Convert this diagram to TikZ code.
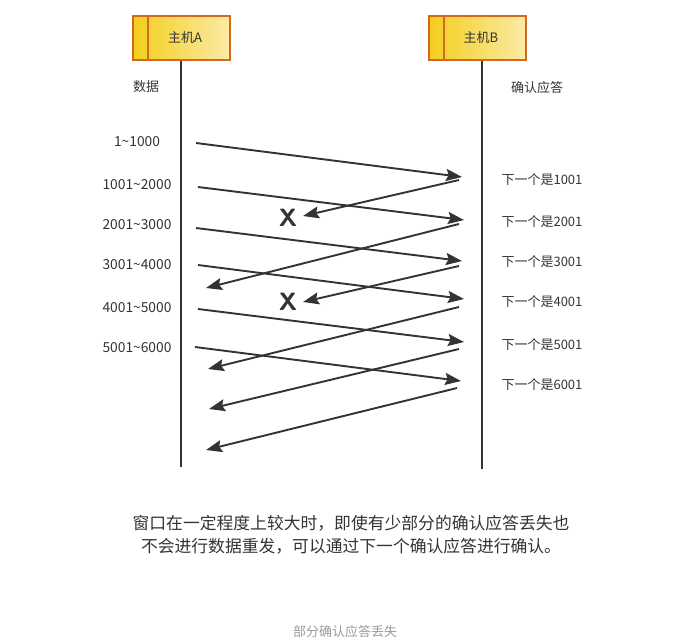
\documentclass[tikz,border=0pt]{standalone}
\usepackage{fontspec}
\setmainfont{Noto Sans CJK SC}
\usetikzlibrary{arrows.meta}
\definecolor{ink}{HTML}{333333}
\definecolor{boxedge}{HTML}{D2691E}
\definecolor{yelA}{HTML}{F3CF1C}
\definecolor{yelB}{HTML}{FBEAA6}
\definecolor{capgray}{HTML}{9A9A9A}
\tikzset{
  host/.style={draw=boxedge, line width=1.8pt, minimum width=97pt, minimum height=44pt, inner sep=0pt, left color=yelA, right color=yelB, font=\fontsize{13}{15}\selectfont, text=ink},
  life/.style={draw=ink, line width=2.3pt},
  lbl/.style={font=\fontsize{13}{15}\selectfont, text=ink},
  dlbl/.style={font=\fontsize{13.8}{15}\selectfont, text=ink},
  msg/.style={draw=ink, line width=1.9pt, -{Stealth[length=16pt,width=12pt,inset=2.5pt]}},
  lost/.style={font=\sffamily\bfseries\fontsize{25}{27}\selectfont, text=ink}
}
\begin{document}
\begin{tikzpicture}[x=1pt,y=-1pt]
\useasboundingbox (0,0) rectangle (687,644);
% hosts
\node[host] (A) at (181.5,38) {\hspace*{7pt}主机A};
\draw[boxedge, line width=1.8pt] ([xshift=16pt]A.north west) -- ([xshift=16pt]A.south west);
\node[host] (B) at (477.5,38) {\hspace*{7pt}主机B};
\draw[boxedge, line width=1.8pt] ([xshift=16pt]B.north west) -- ([xshift=16pt]B.south west);
% lifelines
\coordinate (Aend) at (181,467);
\coordinate (Bend) at (482,469);
\draw[life] (A.south -| Aend) -- (Aend);
\draw[life] (B.south -| Bend) -- (Bend);
% headings
\node[lbl] (hd) at (146,87) {数据};
\node[lbl] (hb) at (537,88) {确认应答};
% data labels
\node[dlbl] (d1) at (137,142) {1\textasciitilde1000};
\node[dlbl] (d2) at (137,185) {1001\textasciitilde2000};
\node[dlbl] (d3) at (137,225) {2001\textasciitilde3000};
\node[dlbl] (d4) at (137,265) {3001\textasciitilde4000};
\node[dlbl] (d5) at (137,308) {4001\textasciitilde5000};
\node[dlbl] (d6) at (137,348) {5001\textasciitilde6000};
% ack labels
\node[lbl,anchor=west] (a1) at (498,180) {下一个是1001};
\node[lbl,anchor=west] (a2) at (498,222) {下一个是2001};
\node[lbl,anchor=west] (a3) at (498,262) {下一个是3001};
\node[lbl,anchor=west] (a4) at (498,302) {下一个是4001};
\node[lbl,anchor=west] (a5) at (498,345) {下一个是5001};
\node[lbl,anchor=west] (a6) at (498,385) {下一个是6001};
% data segment endpoints
\coordinate (s1) at (196,143); \coordinate (e1) at (462,177);
\coordinate (s2) at (198,187); \coordinate (e2) at (464,220);
\coordinate (s3) at (196,228); \coordinate (e3) at (462,261);
\coordinate (s4) at (198,265); \coordinate (e4) at (464,299);
\coordinate (s5) at (198,309); \coordinate (e5) at (464,342);
\coordinate (s6) at (195,347); \coordinate (e6) at (461,381);
\foreach \i in {1,...,6} { \draw[msg] (s\i) -- (e\i); }
% lost marks
\node[lost] (x1) at (288,218) {X};
\node[lost] (x2) at (288,302) {X};
% ack endpoints
\coordinate (r1) at (459,180); \coordinate (t1) at (303,216);
\coordinate (r2) at (459,224); \coordinate (t2) at (206,288);
\coordinate (r3) at (459,266); \coordinate (t3) at (303,302);
\coordinate (r4) at (459,307); \coordinate (t4) at (208,369);
\coordinate (r5) at (459,349); \coordinate (t5) at (209,409);
\coordinate (r6) at (457,388); \coordinate (t6) at (206,450);
\foreach \i in {1,...,6} { \draw[msg] (r\i) -- (t\i); }
% explanation
\node[font=\fontsize{16.8}{23}\selectfont, text=ink, align=center] (expl) at (351,535)
  {窗口在一定程度上较大时，即使有少部分的确认应答丢失也\\不会进行数据重发，可以通过下一个确认应答进行确认。};
\node[font=\fontsize{13}{15}\selectfont, text=capgray] (cap) at (345,632) {部分确认应答丢失};
\end{tikzpicture}
\end{document}
